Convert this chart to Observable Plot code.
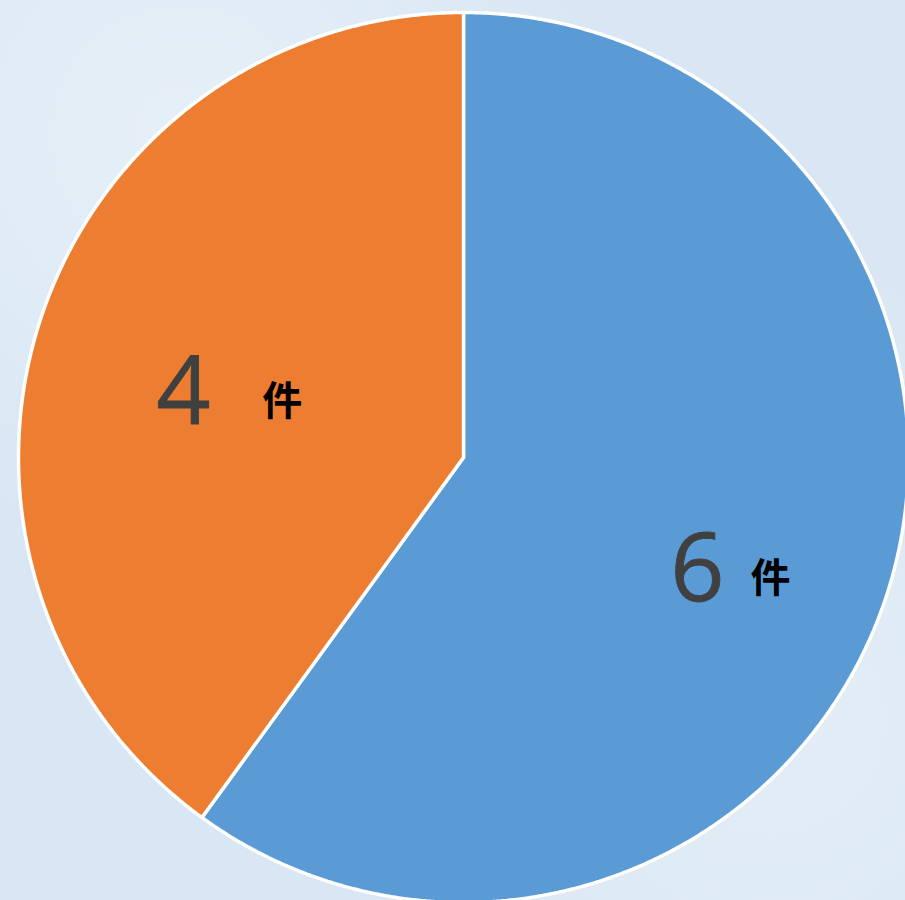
<!DOCTYPE html>
<html><head><meta charset="utf-8">
<script src="https://cdn.jsdelivr.net/npm/d3@7"></script>
<script src="https://cdn.jsdelivr.net/npm/@observablehq/plot@0.6"></script>
<style>
html,body{margin:0;padding:0;background:#dae8f5;}
#chart{width:905px;height:900px;overflow:hidden;
  background:
    radial-gradient(circle at 20% 15%, rgba(255,255,255,0.35), rgba(255,255,255,0) 40%),
    radial-gradient(circle at 85% 80%, rgba(255,255,255,0.25), rgba(255,255,255,0) 45%),
    #d9e7f4;}
svg{display:block;}
</style></head><body><div id="chart"></div>
<script>
// Data
const categories = ["系列1", "系列2"];
const values = [6, 4];
const unitLabel = "件";
const colors = ["#5b9bd5", "#ed7d31"];

// Build pie geometry (unit radius, angles clockwise from 12 o'clock)
const arcs = d3.pie().sort(null).value(d => d)(values);
const sectorPts = [];
arcs.forEach((a, i) => {
  const key = categories[i];
  sectorPts.push({key, x: 0, y: 0});
  const n = Math.ceil((a.endAngle - a.startAngle) / (Math.PI / 720));
  for (let k = 0; k <= n; k++) {
    const t = a.startAngle + (a.endAngle - a.startAngle) * k / n;
    sectorPts.push({key, x: Math.sin(t), y: Math.cos(t)});
  }
  sectorPts.push({key, x: 0, y: 0});
});

// label placement (layout tweaks per slice)
const labelRadius = [0.58, 0.648];
const labelShiftDeg = [7, -4.35];
const unitDx = [73, 99];
const labels = arcs.map((a, i) => {
  const t = (a.startAngle + a.endAngle) / 2 + labelShiftDeg[i] * Math.PI / 180;
  return {
    value: String(values[i]),
    unit: unitLabel,
    x: labelRadius[i] * Math.sin(t),
    y: labelRadius[i] * Math.cos(t),
    udx: unitDx[i]
  };
});

const R = 445, cx = 463, cy = 457, W = 905, H = 900;
const chart = Plot.plot({
  width: W,
  height: H,
  margin: 0,
  style: {background: "transparent", overflow: "visible"},
  x: {domain: [-cx / R, (W - cx) / R], axis: null},
  y: {domain: [-(H - cy) / R, cy / R], axis: null},
  color: {domain: categories, range: colors},
  marks: [
    Plot.line(sectorPts, {
      x: "x", y: "y", z: "key", fill: "key",
      stroke: "white", strokeWidth: 3.5, strokeLinejoin: "miter", curve: "linear"
    }),
    Plot.text(labels, {
      x: "x", y: "y", text: "value", dy: 4,
      fontSize: 95, fill: "#404040",
      fontFamily: "'Open Sans', 'Noto Sans', sans-serif",
      stroke: "#404040", strokeWidth: 0.8,
      textAnchor: "middle"
    }),
    ...labels.map(l => Plot.text([l], {
      x: "x", y: "y", text: "unit",
      dx: l.udx, dy: 13,
      fontSize: 40, fontWeight: "bold", fill: "#000",
      fontFamily: "'Noto Sans CJK JP', sans-serif",
      textAnchor: "middle"
    }))
  ]
});
document.getElementById("chart").appendChild(chart);
</script>
</body></html>
